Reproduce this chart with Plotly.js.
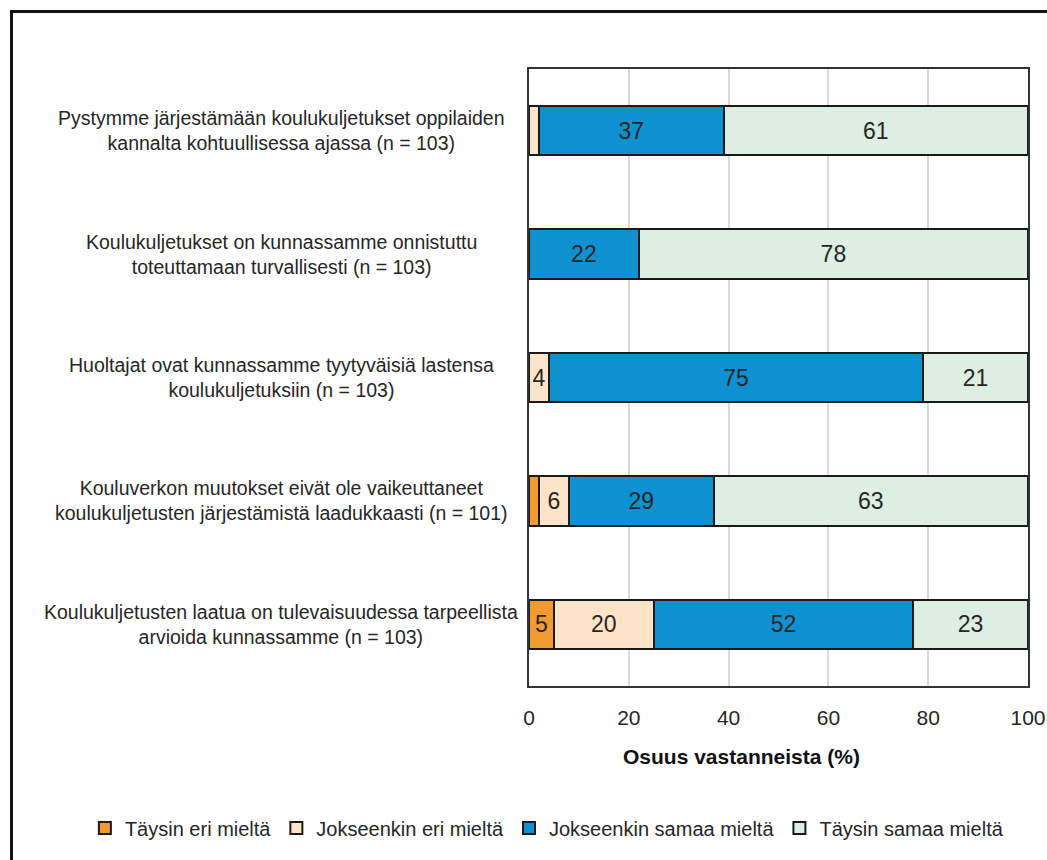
<!DOCTYPE html>
<html>
<head>
<meta charset="utf-8">
<script src="https://cdn.plot.ly/plotly-3.0.1.min.js"></script>
<style>
  html, body { margin: 0; padding: 0; background: #fff; overflow: hidden; }
  #wrap { position: relative; width: 1047px; height: 860px; }
  #chart { position: absolute; left: 0; top: 0; width: 1047px; height: 860px; }
  #frame { position: absolute; left: 10px; top: 10px; width: 1100px; height: 900px;
           border-left: 3px solid #111; border-top: 3px solid #111; pointer-events: none; }
</style>
</head>
<body>
<div id="wrap">
  <div id="chart"></div>
  <div id="frame"></div>
</div>
<script>
const categories = [
  "Pystymme järjestämään koulukuljetukset oppilaiden<br>kannalta kohtuullisessa ajassa (n = 103)",
  "Koulukuljetukset on kunnassamme onnistuttu<br>toteuttamaan turvallisesti (n = 103)",
  "Huoltajat ovat kunnassamme tyytyväisiä lastensa<br>koulukuljetuksiin (n = 103)",
  "Kouluverkon muutokset eivät ole vaikeuttaneet<br>koulukuljetusten järjestämistä laadukkaasti (n = 101)",
  "Koulukuljetusten laatua on tulevaisuudessa tarpeellista<br>arvioida kunnassamme (n = 103)"
];
const seriesNames = ["Täysin eri mieltä", "Jokseenkin eri mieltä", "Jokseenkin samaa mieltä", "Täysin samaa mieltä"];
const taysinEri = [0, 0, 0, 2, 5];
const jokseenkinEri = [2, 0, 4, 6, 20];
const jokseenkinSamaa = [37, 22, 75, 29, 52];
const taysinSamaa = [61, 78, 21, 63, 23];
const xTicks = [0, 20, 40, 60, 80, 100];
const xTitle = "Osuus vastanneista (%)";

const seriesValues = [taysinEri, jokseenkinEri, jokseenkinSamaa, taysinSamaa];
const colors = ["#F29B30", "#FDE4C8", "#0E91D1", "#DDEEE2"];
const FONT = "'Liberation Sans', Arial, sans-serif";

const traces = seriesValues.map((vals, i) => ({
  type: "bar",
  orientation: "h",
  name: seriesNames[i],
  y: categories,
  x: vals,
  text: vals.map(v => (v >= 4 ? String(v) : "")),
  textposition: "inside",
  insidetextanchor: "middle",
  constraintext: "none",
  textfont: { family: FONT, size: 23, color: "#262626" },
  marker: { color: colors[i], line: { color: "#1a1a1a", width: 2 } },
  hoverinfo: "skip"
}));

const annotations = categories.map(c => ({
  xref: "paper", yref: "y",
  x: 0, y: c,
  xshift: -248,
  xanchor: "center", yanchor: "middle",
  align: "center",
  text: c,
  showarrow: false,
  font: { family: FONT, size: 19.5, color: "#262626" }
}));
annotations.push({
  xref: "paper", yref: "paper",
  x: 0.425, y: -0.115,
  xanchor: "center", yanchor: "middle",
  text: "<b>" + xTitle + "</b>",
  showarrow: false,
  font: { family: FONT, size: 21, color: "#111" }
});

const layout = {
  width: 1047,
  height: 860,
  margin: { l: 529, r: 19, t: 69, b: 174 },
  paper_bgcolor: "#fff",
  plot_bgcolor: "#fff",
  barmode: "stack",
  bargap: 0.6,
  showlegend: true,
  font: { family: FONT, size: 20, color: "#262626" },
  xaxis: {
    range: [0, 100],
    tickvals: xTicks,
    ticktext: xTicks.map(String),
    showgrid: true,
    gridcolor: "#d9d9d9",
    gridwidth: 2,
    zeroline: false,
    showline: true,
    linecolor: "#333",
    linewidth: 2,
    mirror: true,
    ticks: "",
    ticklabelstandoff: 12,
    tickfont: { family: FONT, size: 21, color: "#262626" },
    fixedrange: true
  },
  yaxis: {
    type: "category",
    autorange: "reversed",
    showticklabels: false,
    showgrid: false,
    zeroline: false,
    showline: true,
    linecolor: "#333",
    linewidth: 2,
    mirror: true,
    ticks: "",
    fixedrange: true
  },
  legend: {
    orientation: "h",
    xref: "paper",
    yref: "paper",
    x: -0.89,
    y: -0.23,
    xanchor: "left",
    yanchor: "middle",
    traceorder: "normal",
    font: { family: FONT, size: 20, color: "#262626" },
    itemwidth: 30,
    bgcolor: "rgba(0,0,0,0)"
  },
  annotations: annotations
};

Plotly.newPlot("chart", traces, layout, { displayModeBar: false, staticPlot: true });
</script>
</body>
</html>
